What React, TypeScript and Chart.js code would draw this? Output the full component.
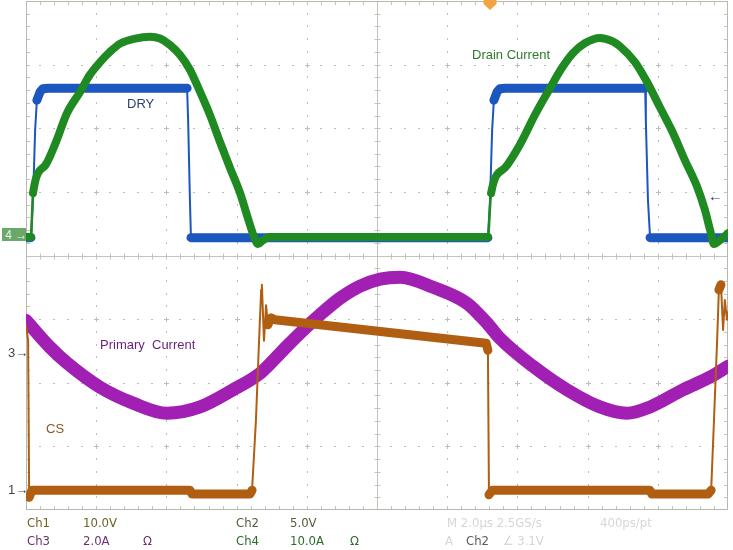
import React, { useEffect, useRef } from "react";
import { Chart, registerables } from "chart.js";

Chart.register(...registerables);

// Time axis in microseconds (2.0 µs/div, 10 div); vertical axis in screen divisions (-4..4)
const TIME_MIN = 0;
const TIME_MAX = 20;
const DIV_MIN = -4;
const DIV_MAX = 4;
const TRIGGER_TIME = 13.22;

// Ch1 — DRY (gate drive)
const dryTime = [0, 0.14, 0.2, 0.26, 0.31, 0.4, 0.48, 0.63, 4.59, 4.62, 4.67, 4.7, 13.16, 13.22, 13.28, 13.33, 13.42, 13.5, 13.65, 17.64, 17.66, 17.72, 17.78, 20];
const dryLevel = [0.28, 0.28, 0.87, 1.97, 2.44, 2.57, 2.62, 2.63, 2.63, 2.1, 0.87, 0.28, 0.28, 0.87, 1.97, 2.44, 2.57, 2.62, 2.63, 2.63, 2.1, 0.87, 0.28, 0.28];

// Ch4 — Drain Current
const drainTime = [0, 0.14, 0.2, 0.54, 0.83, 1.17, 1.54, 1.82, 2.11, 2.39, 2.68, 3.11, 3.53, 3.82, 4.1, 4.39, 4.67, 4.96, 5.24, 5.53, 5.81, 6.1, 6.32, 6.5, 6.61, 6.75, 6.95, 13.16, 13.25, 13.65, 14.07, 14.5, 14.93, 15.27, 15.58, 15.93, 16.35, 16.7, 16.92, 17.35, 17.69, 18.06, 18.43, 18.77, 19.12, 19.34, 19.49, 19.6, 19.77, 20];
const drainLevel = [0.29, 0.29, 0.98, 1.41, 1.75, 2.24, 2.57, 2.84, 3.04, 3.2, 3.33, 3.41, 3.44, 3.41, 3.31, 3.15, 2.92, 2.57, 2.21, 1.78, 1.38, 0.98, 0.59, 0.29, 0.18, 0.24, 0.29, 0.29, 0.98, 1.38, 1.74, 2.21, 2.63, 2.95, 3.18, 3.34, 3.42, 3.37, 3.29, 3.04, 2.73, 2.33, 1.93, 1.5, 1.08, 0.72, 0.4, 0.18, 0.24, 0.35];

// Ch3 — Primary Current
const primaryTime = [0, 0.68, 1.17, 2.11, 3.05, 4.02, 4.96, 5.9, 6.67, 7.32, 7.81, 8.38, 8.95, 9.52, 10.09, 10.66, 11.6, 12.56, 13.13, 13.5, 14.44, 15.41, 16.35, 17.12, 17.78, 18.72, 19.49, 20];
const primaryLevel = [-1.02, -1.44, -1.69, -2.07, -2.32, -2.48, -2.38, -2.11, -1.85, -1.49, -1.22, -0.93, -0.67, -0.48, -0.37, -0.34, -0.5, -0.75, -1.06, -1.3, -1.74, -2.11, -2.38, -2.48, -2.38, -2.11, -1.91, -1.74];

// Ch2 — CS
const csTime = [0, 0.06, 0.09, 0.17, 4.67, 4.73, 6.38, 6.44, 6.55, 6.64, 6.7, 6.72, 6.78, 6.84, 6.89, 6.98, 7.09, 13.11, 13.16, 13.19, 13.28, 17.78, 17.83, 19.43, 19.52, 19.6, 19.69, 19.74, 19.8, 19.86, 19.91, 19.97, 20];
const csLevel = [-1.09, -1.33, -3.8, -3.69, -3.69, -3.75, -3.75, -3.69, -2.6, -1.34, -0.54, -0.46, -1.34, -0.78, -1.09, -0.98, -1.01, -1.38, -1.49, -3.76, -3.69, -3.69, -3.75, -3.75, -3.69, -2.6, -1.34, -0.54, -0.46, -1.17, -0.7, -1.01, -0.89];

const readoutRow1 = [
  { text: "Ch1", left: 27, color: "#6e6226" },
  { text: "10.0V", left: 83, color: "#6e6226" },
  { text: "Ch2", left: 236, color: "#5a5a3a" },
  { text: "5.0V", left: 290, color: "#5a5a3a" },
  { text: "M 2.0µs 2.5GS/s", left: 447, color: "#d6d6d6" },
  { text: "400ps/pt", left: 600, color: "#d6d6d6" },
];
const readoutRow2 = [
  { text: "Ch3", left: 27, color: "#6a3070" },
  { text: "2.0A", left: 83, color: "#6a3070" },
  { text: "Ω", left: 143, color: "#6a3070" },
  { text: "Ch4", left: 236, color: "#2e6a2e" },
  { text: "10.0A", left: 290, color: "#2e6a2e" },
  { text: "Ω", left: 350, color: "#2e6a2e" },
  { text: "A", left: 445, color: "#d6d6d6" },
  { text: "Ch2", left: 466, color: "#5a5a5a" },
  { text: "∠ 3.1V", left: 503, color: "#d6d6d6" },
];

const toPoints = (xs: number[], ys: number[]) => xs.map((x, i) => ({ x, y: ys[i] }));

const segWidth = (w: number, thinW: number) => (ctx: any) => {
  const dx = Math.abs(ctx.p1.x - ctx.p0.x);
  const dy = Math.abs(ctx.p1.y - ctx.p0.y);
  return dy > 5 * dx ? thinW : w;
};

function xsPix(scale: any, v: number) {
  return scale.getPixelForValue(v);
}

const scopeGrid = {
  id: "scopeGrid",
  beforeDatasetsDraw(chart: any) {
    const { ctx, chartArea: a, scales } = chart;
    const xs = scales.x;
    const ys = scales.y;
    ctx.save();
    ctx.fillStyle = "#ffffff";
    ctx.fillRect(a.left, a.top, a.right - a.left, a.bottom - a.top);
    ctx.fillStyle = "#bdbdbd";
    for (let d = 1; d < 10; d++) {
      if (d === 5) continue;
      const px = Math.round(xs.getPixelForValue(d * 2));
      for (let k = 1; k < 40; k++) {
        const py = Math.round(ys.getPixelForValue(DIV_MIN + k * 0.2));
        if (k % 5 === 0) ctx.fillRect(px - 2, py, 5, 1);
        ctx.fillRect(px, py - 1, 1, 2);
      }
    }
    for (let d = 1; d < 8; d++) {
      if (d === 4) continue;
      const py = Math.round(ys.getPixelForValue(DIV_MIN + d));
      for (let k = 1; k < 50; k++) {
        const px = Math.round(xs.getPixelForValue(k * 0.4));
        if (k % 5 === 0) ctx.fillRect(px, py - 2, 1, 5);
        ctx.fillRect(px - 1, py, 2, 1);
      }
    }
    const cx = Math.round(xs.getPixelForValue(10)) + 0.5;
    const cy = Math.round(ys.getPixelForValue(0)) + 0.5;
    ctx.strokeStyle = "#c4c4bc";
    ctx.lineWidth = 1;
    ctx.beginPath();
    ctx.moveTo(cx, a.top);
    ctx.lineTo(cx, a.bottom);
    ctx.moveTo(a.left, cy);
    ctx.lineTo(a.right, cy);
    for (let k = 1; k < 50; k++) {
      const px = Math.round(xs.getPixelForValue(k * 0.4)) + 0.5;
      ctx.moveTo(px, cy - 3);
      ctx.lineTo(px, cy + 3);
      ctx.moveTo(px, a.top);
      ctx.lineTo(px, a.top + 4);
      ctx.moveTo(px, a.bottom);
      ctx.lineTo(px, a.bottom - 4);
    }
    for (let k = 1; k < 40; k++) {
      const py = Math.round(ys.getPixelForValue(DIV_MIN + k * 0.2)) + 0.5;
      ctx.moveTo(cx - 3, py);
      ctx.lineTo(cx + 3, py);
      ctx.moveTo(a.left, py);
      ctx.lineTo(a.left + 4, py);
      ctx.moveTo(a.right, py);
      ctx.lineTo(a.right - 4, py);
    }
    ctx.stroke();
    ctx.strokeStyle = "#b8b8ac";
    ctx.strokeRect(a.left + 0.5, a.top + 0.5, a.right - a.left - 1, a.bottom - a.top - 1);
    ctx.restore();
  },
  afterDraw(chart: any) {
    const { ctx, scales } = chart;
    const tx = xsPix(scales.x, TRIGGER_TIME);
    ctx.save();
    ctx.fillStyle = "#f2a445";
    ctx.beginPath();
    ctx.moveTo(tx - 6.5, 0);
    ctx.lineTo(tx + 6.5, 0);
    ctx.lineTo(tx + 6.5, 4);
    ctx.lineTo(tx, 10);
    ctx.lineTo(tx - 6.5, 4);
    ctx.closePath();
    ctx.fill();
    ctx.restore();
  },
};

const labelFont = "'Liberation Sans', Arial, sans-serif";
const readoutFont = "'DejaVu Sans Condensed', 'DejaVu Sans', sans-serif";

export default function App() {
  const canvasRef = useRef<HTMLCanvasElement | null>(null);

  useEffect(() => {
    const canvas = canvasRef.current;
    if (!canvas) return;
    const common = {
      showLine: true,
      pointRadius: 0,
      pointHoverRadius: 0,
      fill: false,
      borderJoinStyle: "round" as const,
      borderCapStyle: "round" as const,
    };
    const chart = new Chart(canvas, {
      type: "scatter",
      data: {
        datasets: [
          {
            ...common,
            label: "Drain Current",
            data: toPoints(drainTime, drainLevel),
            borderColor: "#1f8a22",
            borderWidth: 8,
            cubicInterpolationMode: "monotone",
            segment: { borderWidth: segWidth(8, 2.5) },
          },
          {
            ...common,
            label: "DRY",
            data: toPoints(dryTime, dryLevel),
            borderColor: "#1b57bf",
            borderWidth: 9,
            segment: { borderWidth: segWidth(9, 2) },
          },
          {
            ...common,
            label: "CS",
            data: toPoints(csTime, csLevel),
            borderColor: "#b05e12",
            borderWidth: 9,
            segment: { borderWidth: segWidth(9, 2) },
          },
          {
            ...common,
            label: "Primary Current",
            data: toPoints(primaryTime, primaryLevel),
            borderColor: "#a11fb3",
            borderWidth: 13,
            cubicInterpolationMode: "monotone",
          },
        ] as any,
      },
      options: {
        animation: false,
        responsive: false,
        devicePixelRatio: 1,
        layout: { padding: { left: 26, top: 1, right: 5, bottom: 40 } },
        scales: {
          x: { type: "linear", min: TIME_MIN, max: TIME_MAX, display: false },
          y: { type: "linear", min: DIV_MIN, max: DIV_MAX, display: false },
        },
        plugins: {
          legend: { display: false },
          tooltip: { enabled: false },
        },
        events: [],
      },
      plugins: [scopeGrid],
    });
    return () => chart.destroy();
  }, []);

  const abs = (left: number, top: number, extra: React.CSSProperties = {}): React.CSSProperties => ({
    position: "absolute",
    left,
    top,
    whiteSpace: "pre",
    lineHeight: "14px",
    ...extra,
  });

  return (
    <div style={{ position: "fixed", left: 0, top: 0, width: 733, height: 550, background: "#ffffff", overflow: "hidden" }}>
      <canvas ref={canvasRef} width={733} height={550} style={{ position: "absolute", left: 0, top: 0, width: 733, height: 550 }} />
      <div style={abs(127, 96, { font: `13px ${labelFont}`, color: "#2d3f70" })}>DRY</div>
      <div style={abs(472, 47, { font: `13px ${labelFont}`, color: "#2c7a2c" })}>Drain Current</div>
      <div style={abs(100, 337, { font: `13px ${labelFont}`, color: "#6c1f7c" })}>Primary  Current</div>
      <div style={abs(46, 421, { font: `13px ${labelFont}`, color: "#8a5a22" })}>CS</div>
      <div style={abs(2, 228, { width: 24, height: 13, background: "#6aa86a", color: "#eef5ee", font: `12px ${labelFont}`, lineHeight: "13px" })}>
        {" 4 →"}
      </div>
      <div style={abs(8, 345, { font: `13px ${labelFont}`, color: "#444444" })}>3→</div>
      <div style={abs(8, 482, { font: `13px ${labelFont}`, color: "#444444" })}>1→</div>
      <div style={abs(708, 187, { font: `15px ${labelFont}`, color: "#2a3f7a" })}>←</div>
      {readoutRow1.map((t, i) => (
        <div key={"r1" + i} style={abs(t.left, 515, { font: `13px ${readoutFont}`, color: t.color })}>{t.text}</div>
      ))}
      {readoutRow2.map((t, i) => (
        <div key={"r2" + i} style={abs(t.left, 533, { font: `13px ${readoutFont}`, color: t.color })}>{t.text}</div>
      ))}
    </div>
  );
}
